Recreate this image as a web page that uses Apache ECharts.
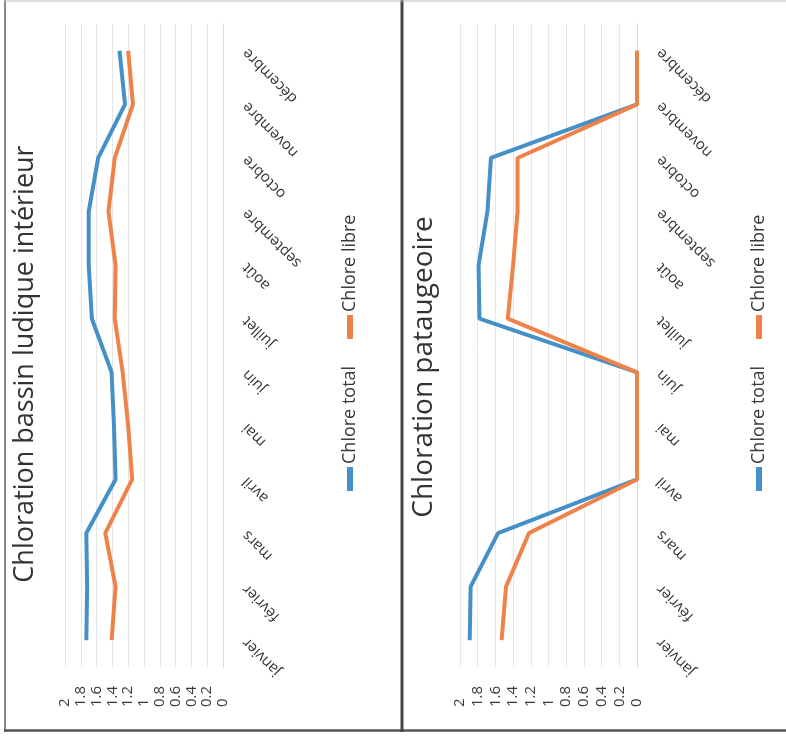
<!DOCTYPE html>
<html><head><meta charset="utf-8">
<script src="https://cdn.jsdelivr.net/npm/echarts@6/dist/echarts.min.js"></script>
<style>html,body{margin:0;padding:0;background:#fff}#c{width:786px;height:742px}</style>
</head><body><div id="c"></div>
<script>
const months = ['janvier','février','mars','avril','mai','juin','juillet','août','septembre','octobre','novembre','décembre'];
const valueTicks = ['0','0.2','0.4','0.6','0.8','1','1.2','1.4','1.6','1.8','2'];
const seriesNames = ['Chlore total','Chlore libre'];
const titles = ['Chloration bassin ludique intérieur','Chloration pataugeoire'];
const bassinTotal = [1.73,1.72,1.73,1.36,1.38,1.41,1.66,1.70,1.70,1.58,1.24,1.31];
const bassinLibre = [1.41,1.36,1.49,1.15,1.20,1.27,1.37,1.36,1.45,1.37,1.14,1.20];
const pataugeoireTotal = [1.89,1.88,1.57,0,0,0,1.78,1.79,1.69,1.65,0,0];
const pataugeoireLibre = [1.53,1.48,1.22,0,0,0,1.46,1.40,1.35,1.35,0,0];

const FONT = '"Open Sans", "DejaVu Sans", sans-serif';
const BLUE = '#4590c8', ORANGE = '#ee8248', TXT = '#3a3a3a';

function valueAxis(gi){
  return {gridIndex:gi,type:'value',min:0,max:2,interval:0.2,inverse:true,
    axisLine:{show:false},axisTick:{show:false},
    splitLine:{lineStyle:{color:'#e6e6e6',width:1}},
    axisLabel:{rotate:90,align:'left',verticalAlign:'middle',margin:40,fontSize:15,color:TXT,fontFamily:FONT,
      showMinLabel:true,showMaxLabel:true,hideOverlap:false,
      formatter:v=>valueTicks[Math.round(v/0.2)]}};
}
function catAxis(gi){
  return {gridIndex:gi,type:'category',data:months,position:'right',boundaryGap:true,
    axisLine:{onZero:false,lineStyle:{color:'#d9d9d9'}},axisTick:{show:false},splitLine:{show:false},
    axisLabel:{interval:0,rotate:135,align:'right',verticalAlign:'middle',margin:22,fontSize:15,color:'#333',fontFamily:FONT}};
}
function line(name, data, gi, color){
  return {name, type:'line', xAxisIndex:gi, yAxisIndex:gi, data, symbol:'none', smooth:false,
    lineStyle:{color, width:4}, itemStyle:{color}, animation:false};
}
function legendItems(cx){
  const f = '18px ' + FONT;
  return [
    {type:'rect', shape:{x:cx-3,y:467,width:6,height:24}, style:{fill:BLUE}},
    {type:'text', x:cx, y:464, rotation:Math.PI/2, style:{text:seriesNames[0], font:f, fill:TXT, align:'left', verticalAlign:'middle'}},
    {type:'rect', shape:{x:cx-3,y:315,width:6,height:24}, style:{fill:ORANGE}},
    {type:'text', x:cx, y:312, rotation:Math.PI/2, style:{text:seriesNames[1], font:f, fill:TXT, align:'left', verticalAlign:'middle'}}
  ];
}

const chart = echarts.init(document.getElementById('c'));
chart.setOption({
  backgroundColor:'#fff',
  animation:false,
  grid:[
    {left:65, right:786-223, top:24, bottom:742-667},
    {left:460, right:786-637, top:24, bottom:742-667}
  ],
  xAxis:[valueAxis(0), valueAxis(1)],
  yAxis:[catAxis(0), catAxis(1)],
  series:[
    line(seriesNames[0], bassinTotal, 0, BLUE),
    line(seriesNames[1], bassinLibre, 0, ORANGE),
    line(seriesNames[0], pataugeoireTotal, 1, BLUE),
    line(seriesNames[1], pataugeoireLibre, 1, ORANGE)
  ],
  graphic:[
    {type:'line', shape:{x1:5,y1:0,x2:5,y2:732}, style:{stroke:'#888',lineWidth:2}},
    {type:'line', shape:{x1:4,y1:730.5,x2:786,y2:730.5}, style:{stroke:'#555',lineWidth:2.5}},
    {type:'line', shape:{x1:402,y1:0,x2:402,y2:732}, style:{stroke:'#444',lineWidth:3}},
    {type:'line', shape:{x1:4,y1:1,x2:786,y2:1}, style:{stroke:'#bbb',lineWidth:1}},
    {type:'text', x:25, y:364, rotation:Math.PI/2, style:{text:titles[0], font:'27px '+FONT, fill:'#333', align:'center', verticalAlign:'middle'}},
    {type:'text', x:424, y:367, rotation:Math.PI/2, style:{text:titles[1], font:'28px '+FONT, fill:'#333', align:'center', verticalAlign:'middle'}},
    ...legendItems(350),
    ...legendItems(759)
  ]
});
</script></body></html>
